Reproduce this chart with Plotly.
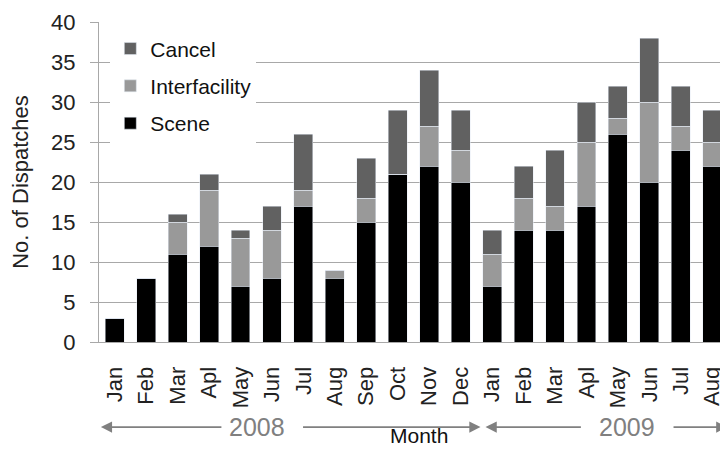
import plotly.graph_objects as go

months = ["Jan", "Feb", "Mar", "Apl", "May", "Jun", "Jul", "Aug", "Sep", "Oct", "Nov", "Dec",
          "Jan", "Feb", "Mar", "Apl", "May", "Jun", "Jul", "Aug"]
years = ["2008"] * 12 + ["2009"] * 8
scene = [3, 8, 11, 12, 7, 8, 17, 8, 15, 21, 22, 20,
         7, 14, 14, 17, 26, 20, 24, 22]
interfacility = [0, 0, 4, 7, 6, 6, 2, 1, 3, 0, 5, 4,
                 4, 4, 3, 8, 2, 10, 3, 3]
cancel = [0, 0, 1, 2, 1, 3, 7, 0, 5, 8, 7, 5,
          3, 4, 7, 5, 4, 8, 5, 4]
y_ticks = [0, 5, 10, 15, 20, 25, 30, 35, 40]

x = list(range(len(months)))
FONT = "Liberation Sans, Arial, sans-serif"

fig = go.Figure()
fig.add_trace(go.Bar(x=x, y=scene, name="Scene", marker_color="#000000",
                     legendgroup="c", legendrank=3))
fig.add_trace(go.Bar(x=x, y=interfacility, name="Interfacility", marker_color="#999999",
                     legendgroup="b", legendrank=2))
fig.add_trace(go.Bar(x=x, y=cancel, name="Cancel", marker_color="#616161",
                     legendgroup="a", legendrank=1))

# page body has an 8px margin, so the figure is offset by 8px
fig.update_layout(
    barmode="stack",
    bargap=0.4,
    width=720, height=441,
    margin=dict(l=91, r=0, t=14, b=107, autoexpand=False),
    paper_bgcolor="white", plot_bgcolor="white",
    font=dict(family=FONT, size=21, color="#222222"),
    showlegend=True,
    legend=dict(x=0.018, y=0.98, xanchor="left", yanchor="top",
                traceorder="grouped", bgcolor="white",
                font=dict(size=21, color="#111111"),
                tracegroupgap=7, itemclick=False, itemwidth=30),
)
fig.update_yaxes(range=[0, 40], tickvals=y_ticks, showgrid=True, automargin=False,
                 gridcolor="#a8a8a8", gridwidth=1,
                 showline=True, linecolor="#a8a8a8", linewidth=1,
                 ticks="outside", ticklen=8, tickcolor="#a8a8a8",
                 ticklabelstandoff=10,
                 tickfont=dict(size=22, color="#222222"),
                 title=dict(text="No. of Dispatches", font=dict(size=22, color="#222222"),
                            standoff=18),
                 zeroline=False)
fig.update_xaxes(range=[-0.5, len(months) - 0.5], tickmode="array", tickvals=x,
                 ticktext=months, tickangle=-90, showgrid=False, automargin=False,
                 showline=True, linecolor="#a8a8a8", linewidth=1,
                 ticks="", ticklabelstandoff=15,
                 tickfont=dict(size=22, color="#222222"))

# Year spans with arrows
ARROW = "#808080"
arrow_y = -0.266
def arrow(head, tail):
    fig.add_annotation(x=head, y=arrow_y, xref="x", yref="paper",
                       ax=tail, ay=0, axref="x", ayref="pixel",
                       text="", showarrow=True, arrowhead=2, arrowsize=1.4,
                       arrowwidth=1.6, arrowcolor=ARROW)

arrow(-0.44, 3.44)
arrow(11.63, 5.94)
arrow(11.79, 14.87)
arrow(19.48, 17.72)
fig.add_annotation(x=4.52, y=arrow_y, xref="x", yref="paper", yanchor="middle",
                   text="2008", showarrow=False, font=dict(size=25, color=ARROW))
fig.add_annotation(x=16.29, y=arrow_y, xref="x", yref="paper", yanchor="middle",
                   text="2009", showarrow=False, font=dict(size=25, color=ARROW))
fig.add_annotation(x=9.66, y=-0.334, xref="x", yref="paper", yanchor="bottom",
                   text="Month", showarrow=False,
                   font=dict(size=21, color="#111111"))

fig.write_html("out.html")
